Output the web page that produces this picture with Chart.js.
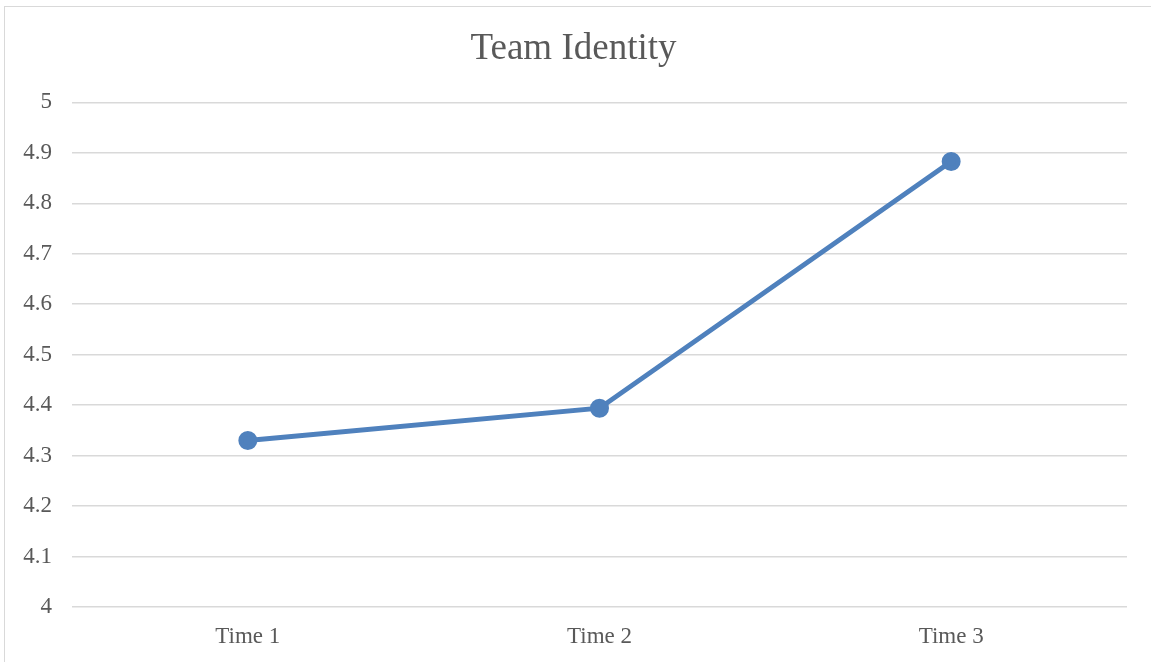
<!DOCTYPE html>
<html>
<head>
<meta charset="utf-8">
<script src="https://cdn.jsdelivr.net/npm/chart.js@4"></script>
<style>
  html, body { margin: 0; padding: 0; background: #fff; overflow: hidden; }
  #wrap { position: relative; width: 1151px; height: 662px; }
  #frame { position: absolute; left: 4px; top: 6px; width: 1160px; height: 670px; border: 1px solid #d9d9d9; }
  canvas { position: absolute; left: 0; top: 0; }
</style>
</head>
<body>
<div id="wrap">
  <div id="frame"></div>
  <canvas id="chart" width="1151" height="662"></canvas>
</div>
<script>
// donnees
const categories = ['Time 1', 'Time 2', 'Time 3'];
const teamIdentity = [4.33, 4.394, 4.883];
const yMin = 4;
const yMax = 5;
const yStep = 0.1;

const textColor = '#595959';
const gridColor = '#d9d9d9';

const ctx = document.getElementById('chart').getContext('2d');
new Chart(ctx, {
    type: 'line',
    data: {
        labels: categories,
        datasets: [{
            label: 'Team Identity',
            data: teamIdentity,
            borderColor: '#4f81bd',
            backgroundColor: '#4f81bd',
            borderWidth: 5,
            pointRadius: 7,
            pointHoverRadius: 7,
            tension: 0,
            fill: false
        }]
    },
    options: {
        responsive: false,
        animation: false,
        layout: { padding: { left: 20, right: 24, top: 0, bottom: 0 } },
        plugins: {
            legend: { display: false },
            tooltip: { enabled: false },
            title: {
                display: true,
                text: 'Team Identity',
                color: textColor,
                font: { family: 'Liberation Serif', size: 37, weight: 'normal' },
                padding: { top: 27, bottom: 31 }
            }
        },
        scales: {
            x: {
                offset: true,
                grid: { display: false, drawTicks: false },
                border: { display: false },
                ticks: {
                    color: textColor,
                    padding: 16,
                    font: { family: 'Liberation Serif', size: 23 }
                },
                afterFit: s => { s.height = 55; }
            },
            y: {
                min: yMin,
                max: yMax,
                grid: { color: gridColor, lineWidth: 1.5, drawTicks: false },
                border: { display: false },
                ticks: {
                    stepSize: yStep,
                    color: textColor,
                    padding: 20,
                    font: { family: 'Liberation Serif', size: 23 },
                    callback: v => Math.round(v * 10) / 10
                },
                afterFit: s => { s.width = 52; }
            }
        }
    }
});
</script>
</body>
</html>
